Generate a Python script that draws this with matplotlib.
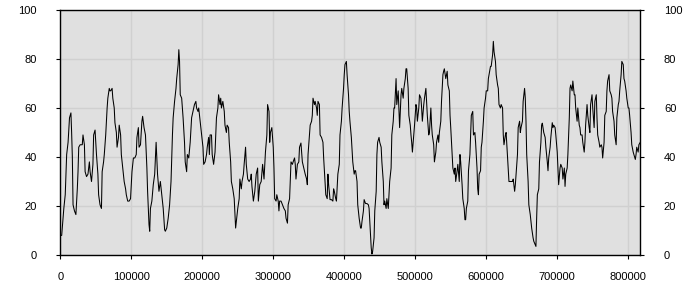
import matplotlib
matplotlib.use("Agg")
import matplotlib.pyplot as plt
from matplotlib.ticker import FuncFormatter

# positions in thousands of units
pos_k = [0, 2, 5, 7, 9, 11, 13, 15, 16, 17, 18, 20, 22, 24, 25, 26, 28, 31, 32, 34,
         35, 37, 39, 41, 42, 44, 46, 47, 49, 51, 53, 54, 56, 58, 59, 61, 62, 64, 66, 67,
         69, 70, 71, 73, 74, 76, 77, 79, 80, 82, 83, 85, 86, 88, 90, 92, 93, 95, 97, 99,
         101, 103, 105, 107, 108, 110, 111, 113, 115, 116, 118, 120, 122, 123, 125, 126, 127, 129, 131, 133,
         135, 137, 139, 141, 143, 145, 147, 148, 150, 152, 154, 156, 158, 159, 161, 163, 164, 166, 167, 168,
         169, 171, 173, 175, 176, 178, 179, 181, 183, 185, 187, 189, 191, 192, 194, 195, 197, 199, 201, 202,
         204, 206, 207, 209, 210, 211, 213, 214, 216, 218, 220, 222, 223, 225, 226, 227, 229, 231, 232, 234,
         235, 237, 238, 240, 241, 243, 245, 246, 247, 248, 250, 252, 253, 255, 256, 258, 259, 261, 262, 264,
         266, 268, 269, 270, 272, 274, 276, 278, 279, 281, 283, 285, 287, 289, 291, 292, 294, 295, 296, 298,
         300, 301, 302, 304, 305, 307, 308, 309, 311, 313, 315, 317, 318, 320, 321, 323, 324, 325, 327, 328,
         330, 331, 332, 334, 336, 337, 339, 340, 341, 343, 345, 347, 348, 349, 351, 352, 354, 355, 356, 358,
         359, 361, 362, 363, 365, 366, 368, 370, 371, 373, 374, 376, 377, 378, 380, 382, 384, 385, 386, 388,
         389, 391, 393, 394, 396, 397, 399, 400, 401, 403, 404, 406, 407, 408, 410, 412, 414, 415, 416, 418,
         419, 421, 423, 424, 425, 427, 428, 430, 432, 434, 435, 437, 438, 439, 440, 442, 443, 445, 446, 447,
         449, 450, 452, 453, 455, 456, 457, 459, 460, 462, 463, 464, 466, 467, 469, 470, 471, 473, 474, 476,
         477, 478, 480, 481, 483, 484, 486, 487, 488, 490, 491, 493, 494, 495, 496, 498, 499, 501, 502, 503,
         505, 506, 508, 509, 510, 512, 513, 515, 516, 517, 519, 520, 522, 523, 524, 526, 527, 529, 530, 532,
         533, 534, 536, 537, 539, 540, 541, 543, 545, 546, 548, 549, 550, 552, 553, 555, 556, 557, 559, 560,
         562, 563, 564, 566, 567, 569, 570, 571, 572, 574, 575, 577, 578, 579, 581, 582, 584, 585, 587, 588,
         589, 590, 592, 593, 594, 596, 597, 599, 600, 602, 603, 604, 606, 607, 609, 610, 611, 613, 614, 616,
         617, 618, 620, 621, 623, 624, 625, 627, 628, 630, 631, 632, 634, 635, 637, 638, 640, 641, 642, 644,
         645, 647, 648, 649, 651, 652, 654, 655, 656, 657, 659, 660, 662, 663, 664, 666, 667, 669, 670, 671,
         672, 674, 675, 677, 678, 679, 681, 683, 684, 686, 687, 688, 690, 691, 693, 694, 695, 697, 698, 700,
         701, 702, 704, 705, 707, 708, 710, 711, 712, 714, 715, 717, 718, 719, 721, 722, 724, 725, 726, 728,
         729, 731, 732, 733, 735, 736, 738, 739, 740, 742, 743, 745, 746, 747, 749, 750, 752, 753, 755, 756,
         757, 759, 760, 762, 763, 764, 766, 767, 769, 770, 771, 773, 774, 776, 777, 778, 780, 781, 783, 784,
         786, 787, 788, 790, 791, 793, 794, 795, 797, 798, 800, 801, 802, 804, 805, 807, 808, 810, 811, 812,
         814, 815, 817]

values = [8, 8, 19, 24.6, 41, 46, 56, 58, 50, 40, 20.5, 18, 16.5, 27, 34, 44, 45, 45, 49, 45,
          34, 32, 33, 38, 34, 30, 37, 49, 51, 41, 33, 24.6, 20.5, 19, 34, 38, 41, 49, 60, 64,
          68, 67, 67, 68, 64, 60, 54, 50, 44, 48, 53, 49, 41, 35.5, 30, 27, 24.6, 22, 22, 23,
          34, 39.6, 39.6, 41, 48, 52, 44, 45, 54.6, 56.6, 52, 49, 35.5, 26, 12.4, 9.7, 19, 22, 28.7, 33,
          46, 33, 26, 30, 24.6, 19, 10.3, 9.7, 11, 15, 20.5, 30, 49, 56, 62.7, 68, 72, 77.7, 83.8, 79,
          65.4, 64, 56, 46, 38, 34, 41, 39.6, 46, 56, 58.6, 61.4, 62.7, 60, 58.6, 60, 54.6, 49, 44, 37,
          38, 41, 44, 48, 41, 49, 49, 41, 37, 42, 56, 60, 65.4, 61.4, 64, 60, 62.7, 58.6, 53, 50,
          53, 52, 46, 38, 30, 27, 23, 16.5, 11, 13.7, 19, 23, 31, 27, 30, 33, 37, 44, 37, 31,
          30, 31, 33, 28, 22, 26, 33, 35.5, 22, 28.7, 30, 37, 31, 42, 49, 61.4, 58.6, 46, 50, 52,
          44, 35.5, 23, 22, 24.6, 22, 18, 22, 22, 20.5, 19, 18, 15, 13, 20.5, 23, 30, 38, 37, 38,
          39.6, 37, 31, 37, 38, 44, 45.7, 42, 38, 35.5, 33, 31, 28.7, 41, 49, 53, 54.6, 57, 64, 61.4,
          62.7, 60, 57, 62.7, 61.4, 49, 48, 46, 39.6, 30, 24.6, 23, 33, 28.7, 22.6, 22.6, 22, 27, 26, 23,
          22, 33, 37, 49, 54.6, 60, 68, 73.6, 77.7, 79, 73.6, 65.4, 58.6, 54.6, 48, 38, 33, 34.4, 34.4, 30,
          20.5, 15, 11, 11, 13.7, 18, 22.6, 21, 21, 20.5, 19, 8.3, 2.9, 0.4, 1.5, 7, 18, 26, 41, 46,
          48, 46, 44, 38, 30, 20.5, 22, 19, 23, 19, 24.6, 30, 35.5, 49, 54.6, 60, 60, 72, 61.4, 67,
          60, 52, 65.4, 68, 64, 68, 72, 76, 76, 68, 57, 53, 49, 46, 42, 49, 53, 61.4, 60, 54.6,
          60, 65.4, 64, 60, 54.6, 61.4, 64, 68, 62.7, 57, 49, 50, 60, 53, 49, 45, 38, 42, 46, 49,
          46, 50, 54.6, 62.7, 73.6, 75, 76, 72, 75, 69.4, 67, 57, 52, 41, 35.5, 33, 35.5, 30, 34.4, 37,
          30, 41, 38, 28.7, 23, 19, 14.4, 14.4, 19, 22, 34.4, 41, 49, 57, 58.6, 49, 50, 46, 35.5, 27,
          24.6, 33, 34.4, 44, 46, 54.6, 60, 64, 67, 67, 72, 73.6, 77, 77, 81.8, 87.2, 83, 79, 73.6, 69.4,
          68, 61.4, 60, 61.4, 60, 49, 45, 49, 50, 39.6, 34.4, 30, 30, 30, 30, 31, 26, 28.7, 33, 41,
          52, 54.6, 50, 52, 54.6, 62.7, 68, 64, 54.6, 41, 30, 20.5, 16.5, 13.7, 11, 7, 5.6, 4.2, 3.5, 15,
          24.6, 27, 38, 46, 53, 53.8, 50, 48, 44, 38, 34.4, 39.6, 44, 48, 54, 52, 53, 52, 49, 42,
          35.5, 28.7, 35.5, 37, 35.5, 31, 35.5, 28, 33, 35.5, 41, 56, 68, 69.4, 67, 71, 65.4, 65.4, 60, 54.6,
          60, 53, 52, 49, 49, 46, 42, 46, 53, 61.4, 57, 52, 50, 61.4, 65.4, 60, 52, 62.7, 65.4, 56,
          49, 46, 44, 45, 44, 39.6, 46, 57, 58.6, 67, 71, 73.6, 67, 65.4, 64, 58.6, 54.6, 49, 45, 56,
          61.4, 62.7, 67, 73.6, 79, 77.7, 72, 71, 67, 64, 60, 60, 57, 50, 45, 42, 41, 39, 41, 44,
          42, 45, 46]

x_ticks = [0, 100000, 200000, 300000, 400000, 500000, 600000, 700000, 800000]
y_ticks = [0, 20, 40, 60, 80, 100]

x = [p * 1000 for p in pos_k]

plt.rcParams['font.family'] = ['Liberation Sans', 'DejaVu Sans']

fig = plt.figure(figsize=(7, 3), dpi=100)
ax = fig.add_axes([0.0861, 0.15, 0.8286, 0.8167])
ax.set_facecolor("#e0e0e0")
ax.plot(x, values, color="black", linewidth=0.75)
ax.set_xlim(0, 817000)
ax.set_ylim(0, 100)
ax.set_xticks(x_ticks)
ax.set_yticks(y_ticks)
ax.xaxis.set_major_formatter(FuncFormatter(lambda v, p: f"{int(v)}"))
ax.grid(True, color="#d0d0d0", linewidth=1)
ax.set_axisbelow(True)
for s in ax.spines.values():
    s.set_color("black")
    s.set_linewidth(1)
ax.tick_params(axis="y", which="both", left=True, right=True, labelleft=True,
               labelright=True, length=3, pad=14, labelsize=8, direction="out")
ax.tick_params(axis="x", length=3, pad=9, labelsize=8, direction="out")
fig.savefig("out.png", dpi=100, facecolor="white")
